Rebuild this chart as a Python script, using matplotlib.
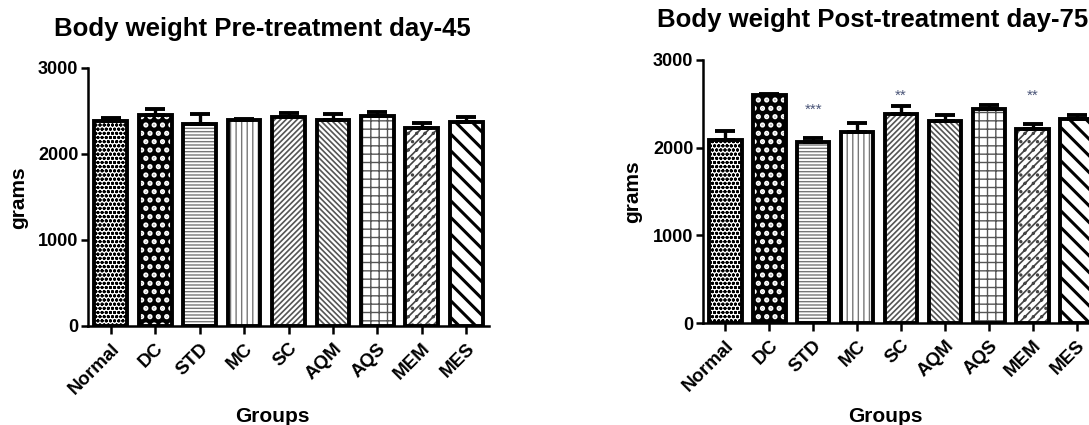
import matplotlib
matplotlib.use("Agg")
import matplotlib.pyplot as plt

plt.rcParams['font.family'] = ['Liberation Sans', 'DejaVu Sans']
plt.rcParams['font.weight'] = 'bold'

groups = ['Normal', 'DC', 'STD', 'MC', 'SC', 'AQM', 'AQS', 'MEM', 'MES']

# body weight (g), mean and SEM
pre_mean = [2378, 2450, 2348, 2390, 2425, 2390, 2441, 2301, 2367]
pre_sem = [40, 70, 120, 15, 50, 78, 46, 58, 58]

post_mean = [2089, 2601, 2070, 2176, 2385, 2309, 2446, 2210, 2324]
post_sem = [106, 6, 40, 110, 90, 68, 42, 61, 46]

# significance marks above the post-treatment bars (text, height in g)
post_stars = ['', '', '***', '', '**', '', '', '**', '']
star_y = [0, 0, 2430, 0, 2590, 0, 0, 2590, 0]

# fill style per group: face colour, hatch, hatch colour, hatch line width
styles = [
    ('white', 'oooo', 'black', 1.0),
    ('black', '..', 'white', 2.5),
    ('white', '-----', '#777777', 1.0),
    ('white', '|||', '#777777', 1.0),
    ('white', '//////', '#555555', 1.2),
    ('white', '\\\\\\\\\\\\', '#555555', 1.2),
    ('white', '++', '#555555', 1.0),
    ('white', '////..', '#444444', 1.2),
    ('white', '\\\\', 'black', 2.2),
]


def draw_panel(ax, means, sems):
    x = list(range(len(groups)))
    for i, (face, hatch, hcol, hlw) in enumerate(styles):
        with plt.rc_context({'hatch.linewidth': hlw}):
            ax.bar(x[i], means[i], width=0.74, color=face, hatch=hatch,
                   edgecolor=hcol, linewidth=0, zorder=2)
    ax.errorbar(x, means, yerr=[[0] * len(sems), sems], fmt='none',
                ecolor='black', elinewidth=2.4, capsize=7, capthick=2.8,
                zorder=3)
    ax.bar(x, means, width=0.74, fill=False, edgecolor='black',
           linewidth=2.8, zorder=4)
    ax.set_xlim(-0.51, 8.51)
    ax.set_ylim(0, 3000)
    ax.set_yticks([0, 1000, 2000, 3000])
    ax.set_xticks(x)
    ax.set_xticklabels(groups, rotation=45, ha='right',
                       rotation_mode='anchor', fontsize=13.5,
                       fontweight='bold')
    for lab in ax.get_yticklabels():
        lab.set_fontsize(13)
        lab.set_fontweight('bold')
    ax.spines['top'].set_visible(False)
    ax.spines['right'].set_visible(False)
    ax.spines['left'].set_linewidth(1.8)
    ax.spines['bottom'].set_linewidth(1.8)
    ax.tick_params(axis='both', direction='out', length=5, width=1.8,
                   pad=2)
    ax.tick_params(axis='x', length=6, pad=4)


fig = plt.figure(figsize=(10.89, 4.25), dpi=100)

ax1 = fig.add_axes([88 / 1089, 1 - 326 / 425, 401 / 1089, 258 / 425])
draw_panel(ax1, pre_mean, pre_sem)

ax2 = fig.add_axes([703 / 1089, 1 - 323 / 425, 396 / 1089, 263 / 425])
draw_panel(ax2, post_mean, post_sem)

for i, s in enumerate(post_stars):
    if s:
        ax2.text(i, star_y[i], s, ha='center', va='center', fontsize=11,
                 color='#4a5578', fontweight='normal')

fig.text(262 / 1089, 1 - 29 / 425, 'Body weight Pre-treatment day-45',
         ha='center', va='center', fontsize=18.5, fontweight='bold')
fig.text(873 / 1089, 1 - 20 / 425, 'Body weight Post-treatment day-75',
         ha='center', va='center', fontsize=18.5, fontweight='bold')

fig.text(19 / 1089, 1 - 198 / 425, 'grams', rotation=90, ha='center',
         va='center', fontsize=15, fontweight='bold')
fig.text(633 / 1089, 1 - 192 / 425, 'grams', rotation=90, ha='center',
         va='center', fontsize=15, fontweight='bold')

fig.text(272 / 1089, 1 - 407 / 425, 'Groups', ha='center', va='top',
         fontsize=15, fontweight='bold')
fig.text(885 / 1089, 1 - 407 / 425, 'Groups', ha='center', va='top',
         fontsize=15, fontweight='bold')

fig.savefig('out.png', dpi=100)
